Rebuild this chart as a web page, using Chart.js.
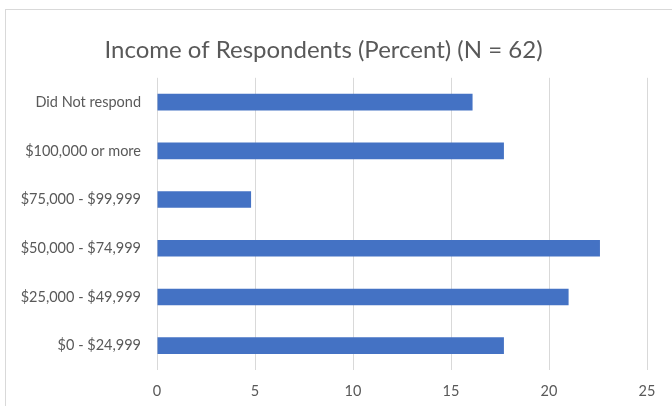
<!DOCTYPE html>
<html lang="en">
<head>
    <meta charset="UTF-8">
    <title>Income of Respondents</title>
    <script src="https://cdn.jsdelivr.net/npm/chart.js@4/dist/chart.umd.min.js"></script>
    <style>
        body { margin: 0; background: #fff; }
        #wrap { position: relative; width: 672px; height: 406px; overflow: hidden; }
        #frame { position: absolute; left: 5px; top: 9px; width: 700px; height: 420px; border: 1px solid #d9d9d9; pointer-events: none; }
    </style>
</head>
<body>
    <div id="wrap">
        <div id="frame"></div>
        <canvas id="incomeChart"></canvas>
    </div>

    <script>
        // percent of 62 respondents in each income bracket
        const categories = ['Did Not respond', '$100,000 or more', '$75,000 - $99,999', '$50,000 - $74,999', '$25,000 - $49,999', '$0 - $24,999'];
        const percents = [16.1, 17.7, 4.8, 22.6, 21.0, 17.7];
        const xTicks = [0, 5, 10, 15, 20, 25];

        const textColor = '#595959';
        const fontFamily = 'Lato, "Open Sans", sans-serif';

        const ctx = document.getElementById('incomeChart').getContext('2d');
        new Chart(ctx, {
            type: 'bar',
            data: {
                labels: categories,
                datasets: [{
                    label: 'Percent',
                    data: percents,
                    backgroundColor: '#4472C4',
                    barPercentage: 1,
                    categoryPercentage: 0.34
                }]
            },
            options: {
                indexAxis: 'y',
                responsive: true,
                maintainAspectRatio: false,
                animation: false,
                layout: { padding: { left: 0, right: 25, top: 0, bottom: 0 } },
                plugins: {
                    legend: { display: false },
                    tooltip: { enabled: false },
                    title: {
                        display: true,
                        text: 'Income of Respondents (Percent) (N = 62)',
                        color: textColor,
                        font: { family: fontFamily, size: 24, weight: 'normal' },
                        padding: { top: 36, bottom: 13 }
                    }
                },
                scales: {
                    x: {
                        min: 0,
                        max: 25,
                        afterBuildTicks: axis => { axis.ticks = xTicks.map(v => ({ value: v })); },
                        afterFit: axis => { axis.height = 36; },
                        grid: { color: '#d9d9d9', drawTicks: false },
                        border: { display: false },
                        ticks: { color: textColor, padding: 13, font: { family: fontFamily, size: 14.5 } }
                    },
                    y: {
                        afterFit: axis => { axis.width = 157; },
                        grid: { display: false, drawTicks: false },
                        border: { display: false },
                        ticks: { color: textColor, padding: 16, font: { family: fontFamily, size: 14.5 } }
                    }
                }
            }
        });
    </script>
</body>
</html>
